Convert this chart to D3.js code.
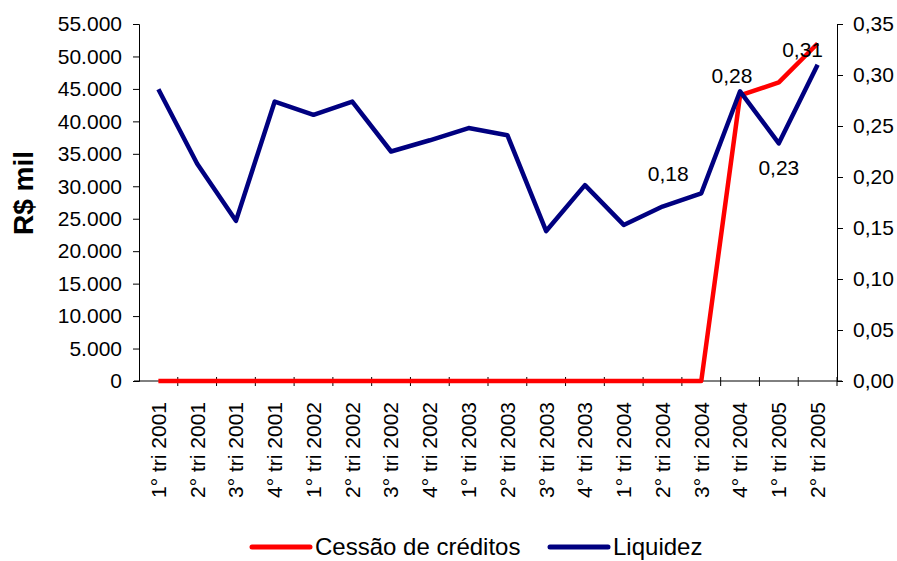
<!DOCTYPE html>
<html>
<head>
<meta charset="utf-8">
<script src="https://cdn.jsdelivr.net/npm/d3@7"></script>
<style>
  body { margin: 0; background: #fff; }
  svg { font-family: "Liberation Sans", Arial, sans-serif; }
</style>
</head>
<body>
<div id="chart"></div>
<script>
// quarters on the x axis
var quarters = [
  "1° tri 2001", "2° tri 2001", "3° tri 2001", "4° tri 2001",
  "1° tri 2002", "2° tri 2002", "3° tri 2002", "4° tri 2002",
  "1° tri 2003", "2° tri 2003", "3° tri 2003", "4° tri 2003",
  "1° tri 2004", "2° tri 2004", "3° tri 2004", "4° tri 2004",
  "1° tri 2005", "2° tri 2005"
];

// Cessão de créditos, R$ mil (left axis)
var cessao = [0, 0, 0, 0, 0, 0, 0, 0, 0, 0, 0, 0, 0, 0, 0, 44000, 46000, 52000];

// Liquidez (right axis)
var liquidez = [0.286, 0.213, 0.157, 0.274, 0.261, 0.274, 0.225, 0.236, 0.248,
                0.241, 0.147, 0.192, 0.153, 0.171, 0.184, 0.284, 0.233, 0.310];

// labelled points of Liquidez
var labelIdx  = [14, 15, 16, 17];
var labelText = ["0,18", "0,28", "0,23", "0,31"];

var leftTicks  = d3.range(0, 55001, 5000);
var rightTicks = d3.range(0, 8).map(function(i) { return i * 0.05; });

var width = 897, height = 561;
var margin = {left: 139, right: 60, top: 24, bottom: 180};

var br = d3.formatLocale({decimal: ",", thousands: ".", grouping: [3], currency: ["R$", ""]});
var fmtLeft = br.format(",.0f");
var fmtRight = br.format(".2f");

var svg = d3.select("#chart").append("svg")
    .attr("width", width)
    .attr("height", height);

var x = d3.scaleBand()
    .domain(quarters)
    .range([margin.left, width - margin.right]);

var yL = d3.scaleLinear().domain([0, 55000]).range([height - margin.bottom, margin.top]);
var yR = d3.scaleLinear().domain([0, 0.35]).range([height - margin.bottom, margin.top]);

function cx(i) { return x(quarters[i]) + x.bandwidth() / 2; }

var baseY = height - margin.bottom;

// left axis
var gl = svg.append("g")
    .attr("transform", "translate(" + margin.left + ",0)")
    .call(d3.axisLeft(yL).tickValues(leftTicks).tickFormat(fmtLeft).tickSize(6).tickPadding(11));

// right axis
var gr = svg.append("g")
    .attr("transform", "translate(" + (width - margin.right) + ",0)")
    .call(d3.axisRight(yR).tickValues(rightTicks).tickFormat(fmtRight).tickSize(6).tickPadding(10));

[gl, gr].forEach(function(g) {
  g.select(".domain").attr("stroke", "#000");
  g.selectAll(".tick line").attr("stroke", "#000");
  g.selectAll(".tick text").attr("fill", "#000").style("font-size", "21px");
});

// x axis line with ticks on category boundaries
var gx = svg.append("g");
gx.append("line")
    .attr("x1", margin.left - 5).attr("x2", width - margin.right + 5)
    .attr("y1", baseY).attr("y2", baseY)
    .attr("stroke", "#000");
gx.selectAll("line.tk")
  .data(d3.range(1, quarters.length + 1))
  .enter().append("line")
    .attr("class", "tk")
    .attr("x1", function(d) { return margin.left + d * x.step(); })
    .attr("x2", function(d) { return margin.left + d * x.step(); })
    .attr("y1", baseY - 4).attr("y2", baseY + 5)
    .attr("stroke", "#000");

gx.selectAll("text")
  .data(quarters)
  .enter().append("text")
    .attr("transform", function(d) {
      return "translate(" + (x(d) + x.bandwidth() / 2) + "," + (baseY + 21) + ") rotate(-90)";
    })
    .attr("dy", "0.35em")
    .attr("text-anchor", "end")
    .style("font-size", "21px")
    .text(function(d) { return d; });

// y title
svg.append("text")
    .attr("transform", "translate(23,193) rotate(-90)")
    .attr("dy", "0.35em")
    .attr("text-anchor", "middle")
    .style("font-size", "28px")
    .style("font-weight", "bold")
    .text("R$ mil");

// lines
var lineL = d3.line().x(function(d, i) { return cx(i); }).y(function(d) { return yL(d); });
var lineR = d3.line().x(function(d, i) { return cx(i); }).y(function(d) { return yR(d); });

svg.append("path")
    .attr("d", lineL(cessao))
    .attr("fill", "none")
    .attr("stroke", "#ff0000")
    .attr("stroke-width", 4.5)
    .attr("stroke-linejoin", "round");

svg.append("path")
    .attr("d", lineR(liquidez))
    .attr("fill", "none")
    .attr("stroke", "#000080")
    .attr("stroke-width", 4.5)
    .attr("stroke-linejoin", "round");

// data labels (nudged like in the original)
var nudge = [[-33, -20], [-8, -16], [0, 24], [-15, -15]];
svg.selectAll("text.lbl")
  .data(labelIdx)
  .enter().append("text")
    .attr("class", "lbl")
    .attr("x", function(d, k) { return cx(d) + nudge[k][0]; })
    .attr("y", function(d, k) { return yR(liquidez[d]) + nudge[k][1]; })
    .attr("dy", "0.35em")
    .attr("text-anchor", "middle")
    .style("font-size", "21px")
    .text(function(d, k) { return labelText[k]; });

// legend
var legend = [["Cessão de créditos", "#ff0000", 252], ["Liquidez", "#000080", 550]];
var lg = svg.selectAll("g.leg")
  .data(legend)
  .enter().append("g")
    .attr("transform", function(d) { return "translate(" + d[2] + ",547)"; });
lg.append("line")
    .attr("x1", 0).attr("x2", 58)
    .attr("stroke", function(d) { return d[1]; })
    .attr("stroke-width", 5)
    .attr("stroke-linecap", "round");
lg.append("text")
    .attr("x", 63)
    .attr("dy", "0.35em")
    .style("font-size", "24px")
    .text(function(d) { return d[0]; });
</script>
</body>
</html>
